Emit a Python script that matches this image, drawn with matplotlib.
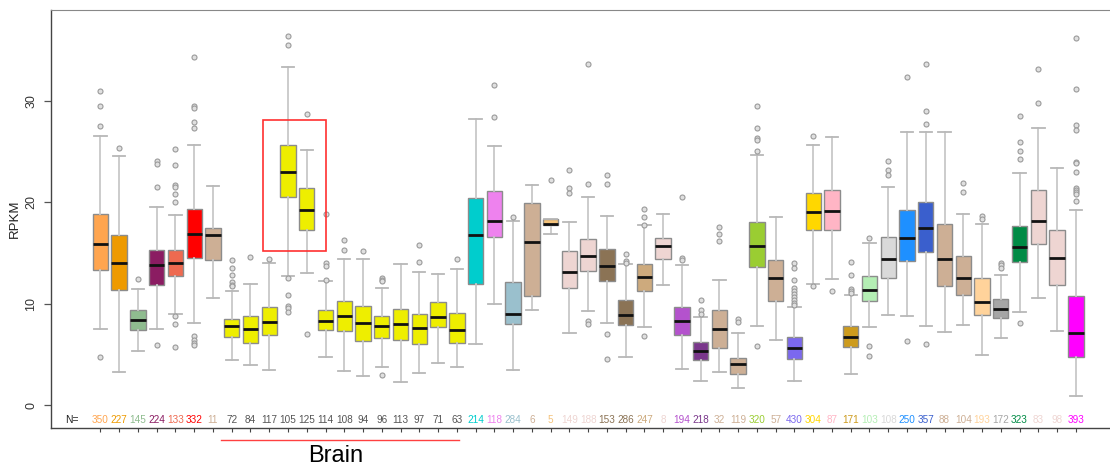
import matplotlib
matplotlib.use("Agg")
import matplotlib.pyplot as plt
from matplotlib.patches import Rectangle
from matplotlib.lines import Line2D

plt.rcParams['font.family'] = ['Liberation Sans', 'DejaVu Sans']

# 每个箱子的样本数 (N=)
n_counts = [350, 227, 145, 224, 133, 332, 11, 72, 84, 117, 105, 125, 114, 108, 94,
            96, 113, 97, 71, 63, 214, 118, 284, 6, 5, 149, 188, 153, 286, 247,
            8, 194, 218, 32, 119, 320, 57, 430, 304, 87, 171, 103, 108, 250, 357,
            88, 104, 193, 172, 323, 83, 98, 393]

# 箱线图统计量 (RPKM)
whis_lo = [7.56, 3.3, 5.35, 7.5, 9.0, 8.1, 10.6, 4.5, 4.0, 3.5, 12.7, 13.0, 4.8, 3.4, 2.9,
           3.8, 2.3, 3.15, 4.2, 3.8, 6.0, 10.0, 3.5, 9.4, 16.9, 7.15, 9.25, 8.15, 4.8, 7.75,
           11.85, 3.6, 2.35, 3.3, 1.7, 7.8, 6.4, 2.4, 12.0, 12.5, 3.1, 7.7, 8.9, 8.8, 7.8,
           7.25, 7.9, 5.0, 6.6, 9.2, 10.55, 7.3, 0.9]
q1 = [13.34, 11.4, 7.4, 11.9, 12.7, 14.5, 14.3, 6.7, 6.1, 6.9, 20.5, 17.25, 7.45, 7.35, 6.3,
      6.6, 6.4, 6.0, 7.7, 6.1, 12.0, 16.55, 8.0, 10.75, 17.75, 11.6, 13.25, 12.3, 7.9, 11.3,
      14.4, 6.9, 4.45, 5.6, 3.05, 13.6, 10.3, 4.57, 17.3, 17.25, 5.75, 10.3, 12.6, 14.2, 15.1,
      11.75, 10.9, 8.9, 8.6, 14.15, 15.9, 11.9, 4.75]
medians = [15.87, 14.0, 8.45, 13.8, 14.0, 16.9, 16.8, 7.8, 7.55, 8.2, 23.0, 19.3, 8.35, 8.8, 8.1,
           7.8, 8.05, 7.65, 8.7, 7.4, 16.8, 18.2, 9.05, 16.1, 17.9, 13.1, 14.7, 13.75, 8.9, 12.65,
           15.7, 8.3, 5.35, 7.5, 4.07, 15.7, 12.55, 5.6, 19.1, 19.2, 6.7, 11.35, 14.45, 16.5, 17.5,
           14.45, 12.6, 10.2, 9.5, 15.65, 18.2, 14.5, 7.15]
q3 = [18.86, 16.8, 9.4, 15.3, 15.3, 19.35, 17.45, 8.55, 8.85, 9.7, 25.7, 21.4, 9.4, 10.3, 9.8,
      8.85, 9.45, 9.0, 10.2, 9.1, 20.4, 21.1, 12.2, 19.95, 18.4, 15.2, 16.4, 15.4, 10.35, 13.9,
      16.45, 9.7, 6.25, 9.35, 4.7, 18.1, 14.3, 6.75, 20.95, 21.2, 7.8, 12.7, 16.55, 19.3, 20.0,
      17.85, 14.75, 12.6, 10.45, 17.7, 21.2, 17.25, 10.75]
whis_hi = [26.55, 24.6, 11.5, 19.6, 18.8, 25.7, 21.6, 11.3, 12.0, 14.0, 33.4, 25.2, 12.25, 14.45, 14.45,
           11.6, 13.9, 13.1, 12.9, 13.4, 28.2, 25.6, 18.2, 21.7, 18.4, 18.1, 20.5, 18.7, 13.9, 17.75,
           18.9, 13.8, 8.75, 12.4, 7.1, 24.65, 18.6, 9.7, 25.7, 26.5, 10.9, 16.0, 21.5, 26.95, 26.9,
           26.9, 18.9, 17.9, 12.8, 22.9, 27.35, 23.4, 19.25]
outliers = [
    [31.0, 29.5, 27.5, 4.8], [25.4], [12.5], [24.05, 23.8, 21.5, 5.95],
    [25.3, 23.7, 21.7, 21.5, 20.8, 20.0, 8.8, 8.0, 5.7],
    [34.3, 29.5, 29.3, 27.9, 27.3, 6.8, 6.45, 6.1, 5.9], [],
    [14.3, 13.5, 12.8, 12.2, 11.9, 11.8], [14.6], [14.4],
    [36.4, 35.5, 12.6, 10.9, 9.8, 9.6, 9.2], [28.7, 7.07],
    [18.9, 14.0, 13.7, 12.4], [16.3, 15.35], [15.2],
    [12.6, 12.4, 12.25, 3.0], [], [15.8, 14.1], [], [14.45],
    [], [31.6, 28.4], [18.6], [], [22.2],
    [23.2, 21.4, 20.95], [33.7, 21.8, 8.35, 8.0], [22.7, 21.8, 7.07, 4.57],
    [14.9, 14.2, 14.0], [19.35, 18.6, 17.8, 6.85],
    [], [20.5, 14.5, 14.3], [10.35, 9.35, 9.0], [17.6, 16.9, 16.2], [8.5, 8.2],
    [29.5, 27.3, 26.35, 26.15, 25.1, 5.85], [],
    [14.0, 13.5, 12.4, 11.6, 11.3, 11.0, 10.7, 10.4, 10.1, 9.9],
    [26.6, 11.75], [11.3], [14.15, 12.8, 11.5, 11.3, 11.05],
    [16.45, 5.8, 4.85], [24.1, 23.2, 22.7], [32.4, 6.3],
    [33.7, 29.05, 27.7, 6.0], [], [21.95, 21.05], [18.65, 18.4],
    [14.0, 13.8, 13.55], [28.55, 26.0, 25.1, 24.3, 8.1], [33.2, 29.85], [],
    [36.2, 31.15, 27.6, 27.1, 24.0, 23.85, 23.0, 21.45, 21.2, 21.05, 20.8, 20.1],
]

box_colors = ['#FFA54F', '#EE9A00', '#8FBC8F', '#8B1C62', '#EE6A50', '#FF0000', '#CDAF95'] + \
             ['#EEEE00'] * 13 + \
             ['#00CDCD', '#EE82EE', '#9AC0CD', '#CDAF95', '#F4C27A', '#EED5D2', '#EED5D2',
              '#8B7355', '#8B7355', '#CDAA7D', '#EED5D2', '#B452CD', '#7A378B', '#CDAF95',
              '#CDAF95', '#9ACD32', '#CDAF95', '#7B68EE', '#FFD700', '#FFB5C5', '#CD9B1D',
              '#B4EEB4', '#D9D9D9', '#1E90FF', '#3A5FCD', '#CDAF95', '#CDAF95', '#FFD39B',
              '#A6A6A6', '#008B45', '#EED5D2', '#EED5D2', '#FF00FF']
label_colors = ['#555555' if c == '#EEEE00' else c for c in box_colors]

positions = list(range(1, len(n_counts) + 1))
stats = []
for i in range(len(n_counts)):
    stats.append(dict(whislo=whis_lo[i], q1=q1[i], med=medians[i], q3=q3[i],
                      whishi=whis_hi[i], fliers=outliers[i]))

fig = plt.figure(figsize=(11.1, 4.68), dpi=100)
ax = fig.add_axes([51 / 1110, 1 - 428 / 468, 1070 / 1110, 418 / 468])

bp = ax.bxp(stats, positions=positions, widths=0.82, capwidths=0.66, patch_artist=True,
            boxprops=dict(edgecolor='#8c8c8c', linewidth=1.0),
            medianprops=dict(color='#111111', linewidth=2.0),
            whiskerprops=dict(color='#c8c8c8', linewidth=1.3),
            capprops=dict(color='#b8b8b8', linewidth=1.3),
            flierprops=dict(marker='o', markersize=3.6, markerfacecolor='#e0e0e0',
                            markeredgecolor='#9a9a9a', markeredgewidth=0.8))
for patch, c in zip(bp['boxes'], box_colors):
    patch.set_facecolor(c)

# N= 行
ax.text(-0.5, -1.45, 'N=', ha='center', va='center', fontsize=7.4, color='#222222')
for p, n, c in zip(positions, n_counts, label_colors):
    ax.text(p, -1.45, str(n), ha='center', va='center', fontsize=7.2, color=c)

ax.set_xlim(-1.634, 55.3 + 2 / 18.6)
ax.set_ylim(-2.24, 38.98)
ax.set_xticks(positions)
ax.set_xticklabels([])
ax.tick_params(axis='x', length=3, color='#444444', width=0.8)
ax.set_yticks([0, 10, 20, 30])
ax.set_yticklabels(['0', '10', '20', '30'], rotation=90, va='center', fontsize=9,
                   color='#333333')
ax.tick_params(axis='y', length=5, pad=5, color='#555555', width=0.9)
for s in ['left', 'bottom']:
    ax.spines[s].set_color('#444444')
    ax.spines[s].set_linewidth(1.0)
ax.spines['top'].set_color('#888888')
ax.spines['right'].set_visible(False)

fig.text(15 / 1110, 1 - 219 / 468, 'RPKM', rotation=90, ha='center', va='center',
         fontsize=9.5, color='#222222')

# 红框与 Brain 标注
ax.add_patch(Rectangle((9.66, 15.2), 13.0 - 9.66, 28.1 - 15.2, fill=False,
                       edgecolor='#FF3030', linewidth=1.2, zorder=5))
fig.add_artist(Line2D([220.7 / 1110, 459 / 1110], [1 - 440 / 468, 1 - 440 / 468],
                      color='#FF4040', linewidth=1.0))
fig.text(335.5 / 1110, 1 - 456.5 / 468, 'Brain', ha='center', va='center',
         fontsize=17, color='black')

fig.savefig('out.png', dpi=100)
